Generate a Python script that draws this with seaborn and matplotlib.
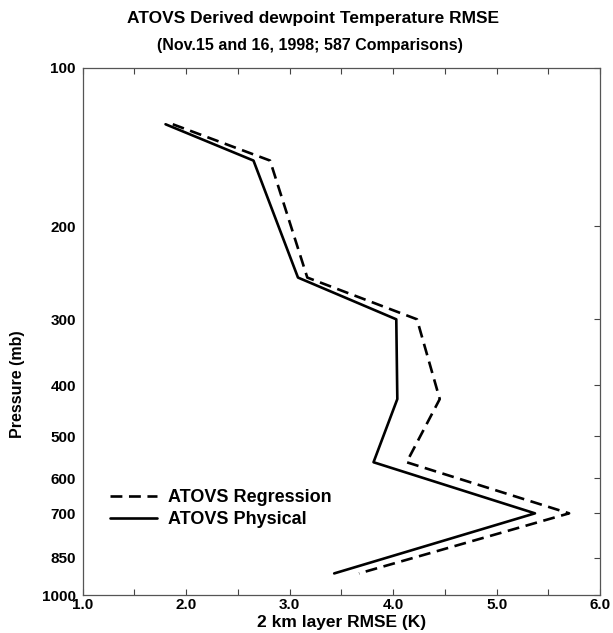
import matplotlib
matplotlib.use("Agg")
import matplotlib.pyplot as plt
import seaborn as sns
import pandas as pd
from matplotlib.ticker import FixedLocator, MultipleLocator

# Data
pressure = [128, 150, 250, 300, 425, 560, 700, 910]
rmse_physical = [1.80, 2.65, 3.08, 4.03, 4.04, 3.81, 5.37, 3.43]
rmse_regression = [1.87, 2.81, 3.17, 4.23, 4.45, 4.13, 5.70, 3.67]
series_names = ["ATOVS Regression", "ATOVS Physical"]
y_ticks = [100, 200, 300, 400, 500, 600, 700, 850, 1000]
x_ticks = [1.0, 2.0, 3.0, 4.0, 5.0, 6.0]

df = pd.concat([
    pd.DataFrame({"p": pressure, "rmse": rmse_regression, "series": series_names[0]}),
    pd.DataFrame({"p": pressure, "rmse": rmse_physical, "series": series_names[1]}),
])

sns.set_style("white")
plt.rcParams['font.family'] = ['Liberation Sans', 'DejaVu Sans']
plt.rcParams['font.weight'] = 'bold'
plt.rcParams['text.color'] = 'black'
plt.rcParams['axes.labelcolor'] = 'black'

fig = plt.figure(figsize=(6.13, 6.33), dpi=100)
ax = fig.add_axes([0.135, 0.060, 0.844, 0.833])

sns.lineplot(data=df, x="rmse", y="p", hue="series", style="series",
             palette=["black", "black"],
             dashes={series_names[0]: (4.5, 2.5), series_names[1]: ""},
             sort=False, estimator=None, linewidth=1.9, ax=ax)

ax.set_yscale("log")
ax.set_ylim(1000, 100)
ax.set_xlim(1.0, 6.0)
ax.yaxis.set_major_locator(FixedLocator(y_ticks))
ax.yaxis.set_minor_locator(FixedLocator([]))
ax.set_yticklabels([str(t) for t in y_ticks])
ax.xaxis.set_major_locator(FixedLocator(x_ticks))
ax.xaxis.set_minor_locator(MultipleLocator(0.5))
ax.set_xticklabels([f"{t:.1f}" for t in x_ticks])

ax.tick_params(axis="both", which="both", direction="in", top=True, right=True,
               bottom=True, left=False, length=4, width=0.8, colors="#444444",
               labelcolor="black", labelsize=11)
ax.tick_params(axis="y", which="both", left=False, pad=5)
ax.tick_params(axis="x", which="major", pad=2)
for lbl in ax.get_xticklabels() + ax.get_yticklabels():
    lbl.set_fontweight("bold")

for s in ax.spines.values():
    s.set_color("#555555")
    s.set_linewidth(0.9)

ax.set_xlabel("2 km layer RMSE (K)", fontsize=12.5, fontweight="bold", color="black")
ax.set_ylabel("Pressure (mb)", fontsize=11.5, fontweight="bold", color="black")
ax.xaxis.set_label_coords(0.5, -0.037)
ax.yaxis.set_label_coords(-0.112, 0.40)

fig.text(0.51, 0.971, "ATOVS Derived dewpoint Temperature RMSE", ha="center", va="center",
         fontsize=12.5, fontweight="bold", color="black")
fig.text(0.505, 0.928, "(Nov.15 and 16, 1998; 587 Comparisons)", ha="center", va="center",
         fontsize=11.5, fontweight="bold", color="black")

leg = ax.legend(loc="upper left", bbox_to_anchor=(0.022, 0.232), frameon=False,
                handlelength=2.6, handletextpad=0.6, labelspacing=0.3,
                prop={"size": 13, "weight": "bold"}, title=None)
for t in leg.get_texts():
    t.set_color("black")

fig.savefig("out.png", dpi=100)
